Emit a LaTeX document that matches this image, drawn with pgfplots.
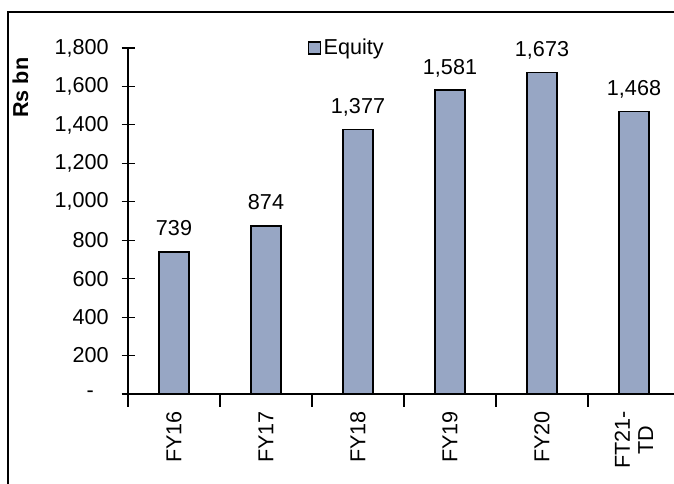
\documentclass[border=0pt]{standalone}
\usepackage{pgfplots}
\pgfplotsset{compat=1.18}
\usepackage{fontspec}
\setmainfont{Liberation Sans}
\definecolor{barcol}{RGB}{151,166,196}
\newcommand{\chartfont}{\fontsize{16.2}{17.5}\selectfont}
\begin{document}
\begin{tikzpicture}
\begin{axis}[
  at={(96pt,67.5pt)}, anchor=south west,
  x=69pt, y=0.144167pt,
  xmin=-0.5, xmax=5.46, ymin=0, ymax=1800,
  axis x line=bottom, axis y line=left,
  axis line style={-, line width=0.8pt},
  every tick/.style={black, line width=0.8pt},
  tick align=center,
  clip=false,
  ybar, bar width=22.5pt,
  xtick={0,1,2,3,4,5},
  xticklabels={FY16,FY17,FY18,FY19,FY20,{FT21-\\TD}},
  major x tick style={draw=none},
  minor xtick={-0.5,0.5,1.5,2.5,3.5,4.5,5.5},
  minor tick length=9.75pt,
  major tick length=9.75pt,
  ytick={0,200,400,600,800,1000,1200,1400,1600,1800},
  yticklabels={-\kern11pt,200,400,600,800,{1,000},{1,200},{1,400},{1,600},{1,800}},
  ticklabel style={font=\chartfont},
  xticklabel style={yshift=-3pt, rotate=90, anchor=east, align=center, inner sep=0pt},
  yticklabel style={anchor=east, inner sep=0pt, xshift=-9.5pt},
  /pgf/number format/.cd, 1000 sep={,}, assume math mode=true, /pgfplots/.cd,
  nodes near coords,
  nodes near coords style={font=\chartfont, anchor=base, inner sep=0pt, yshift=12pt},
  ylabel={Rs bn},
  ylabel style={at={(axis description cs:-0.196,0.885)}, anchor=center, font=\chartfont\bfseries},
  legend style={draw=none, fill=none, at={(axis description cs:0.3275,1.0)}, anchor=west,
    font=\chartfont, inner sep=0pt},
  legend image code/.code={\draw[fill=barcol, draw=black, line width=0.9pt] (0pt,-4.5pt) rectangle (9pt,4.5pt);},
]
\addplot[fill=barcol, draw=black, line width=0.9pt] coordinates {
  (0,739) (1,874) (2,1377) (3,1581) (4,1673) (5,1468)
};
\addlegendentry{Equity}
\end{axis}
\pgfresetboundingbox
\useasboundingbox (0,0) rectangle (505.5pt,363pt);
\draw[line width=0.8pt] (6pt,-10pt) -- (6pt,354pt) -- (520pt,354pt);
\end{tikzpicture}
\end{document}
